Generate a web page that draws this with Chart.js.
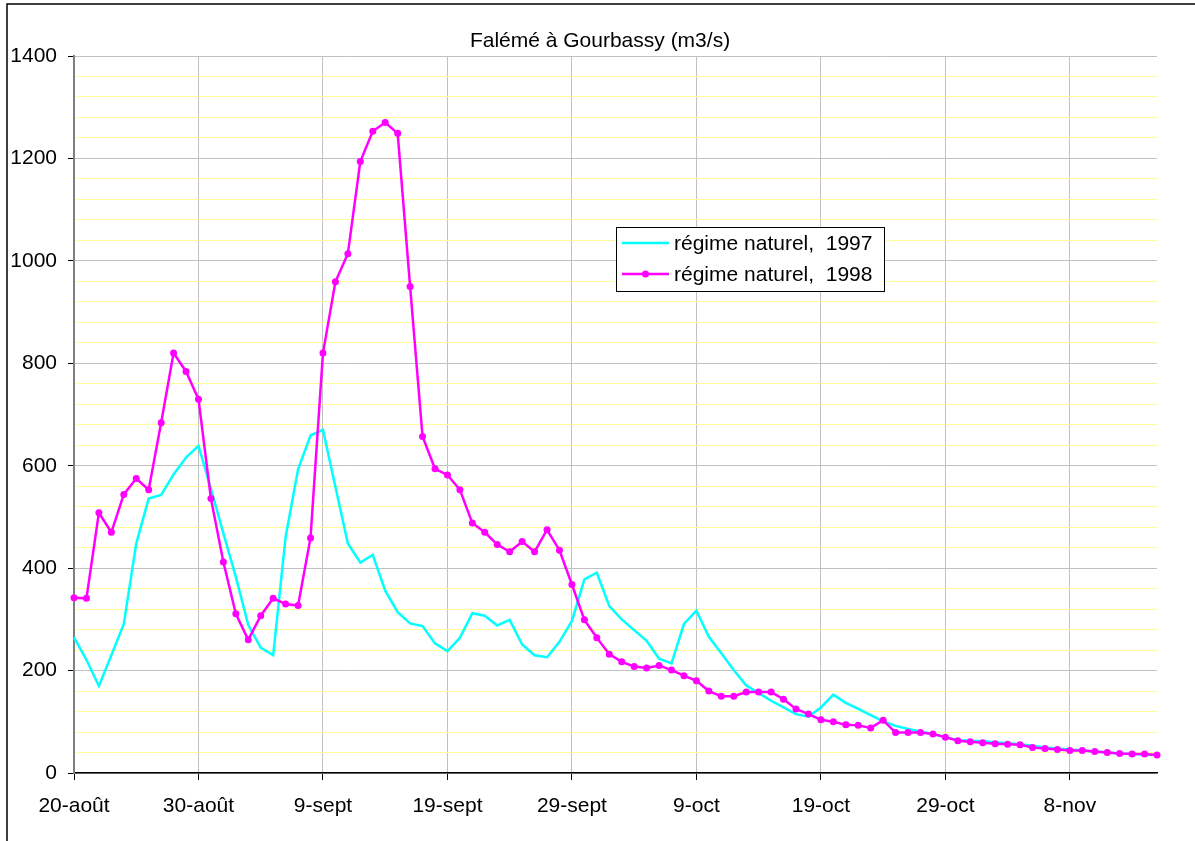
<!DOCTYPE html>
<html>
<head>
<meta charset="utf-8">
<title>Falémé à Gourbassy</title>
<script src="https://cdn.jsdelivr.net/npm/chart.js@4"></script>
<style>
  body { margin: 0; background: #fff; }
  canvas { display: block; }
</style>
</head>
<body>
<canvas id="debitChart" width="1195" height="841"></canvas>
<script>
// daily discharge (m3/s), one value per day from 20 August
const xTickLabels = ['20-août', '30-août', '9-sept', '19-sept', '29-sept', '9-oct', '19-oct', '29-oct', '8-nov'];

const regime1997 = [
  265, 221, 170, 230, 291, 448, 536, 543, 583, 616,
  639, 555, 468, 383, 289, 245, 230, 461, 593, 659,
  670, 559, 448, 411, 426, 356, 314, 292, 287, 253,
  238, 264, 312, 307, 288, 299, 251, 230, 226, 256,
  297, 378, 391, 326, 300, 279, 258, 223, 214, 291,
  317, 266, 234, 201, 171, 156, 141, 128, 115, 110,
  128, 153, 137, 125, 113, 101, 92, 86, 81, 76,
  70, 64, 63, 62, 60, 58, 56, 53, 50, 48,
  46, 44, 42, 40, 38, 37, 36, 35
];

const regime1998 = [
  342, 341, 508, 470, 544, 575, 553, 684, 820, 784,
  730, 536, 412, 311, 260, 307, 341, 330, 327, 459,
  820, 959, 1014, 1194, 1253, 1270, 1249, 950, 657, 594,
  582, 553, 488, 470, 446, 432, 452, 432, 475, 435,
  368, 299, 264, 232, 217, 208, 205, 210, 201, 190,
  180, 160, 150, 150, 158, 158, 158, 144, 125, 115,
  104, 100, 94, 93, 88, 103, 79, 79, 79, 76,
  70, 63, 61, 59, 57, 56, 55, 50, 48, 46,
  44, 44, 42, 40, 38, 37, 37, 35
];

const seriesNames = ['régime naturel,  1997', 'régime naturel,  1998'];
const chartTitle = 'Falémé à Gourbassy (m3/s)';

const FONT = '"Liberation Sans", Arial, sans-serif';
const toPoints = arr => arr.map((v, i) => ({ x: i, y: v }));

// white background, thin frame and the centred title
const frame = {
  id: 'frame',
  beforeDraw(chart) {
    const ctx = chart.ctx;
    ctx.save();
    ctx.fillStyle = '#fff';
    ctx.fillRect(0, 0, chart.width, chart.height);
    ctx.strokeStyle = '#000';
    ctx.lineWidth = 1.5;
    ctx.strokeRect(7, 4, chart.width + 10, chart.height + 10);
    ctx.fillStyle = '#000';
    ctx.font = '21px ' + FONT;
    ctx.textAlign = 'center';
    ctx.textBaseline = 'middle';
    ctx.fillText(chartTitle, 600, 41);
    ctx.restore();
  }
};

// boxed legend sitting inside the plot
const boxLegend = {
  id: 'boxLegend',
  afterDatasetsDraw(chart) {
    const ctx = chart.ctx;
    ctx.save();
    ctx.fillStyle = '#fff';
    ctx.fillRect(616, 227, 268, 64);
    ctx.strokeStyle = '#000';
    ctx.lineWidth = 1;
    ctx.strokeRect(616.5, 227.5, 268, 64);
    ctx.font = '21px ' + FONT;
    ctx.textBaseline = 'middle';
    ctx.textAlign = 'left';
    chart.data.datasets.forEach((ds, i) => {
      const y = 243 + i * 31;
      ctx.strokeStyle = ds.borderColor;
      ctx.lineWidth = 2.5;
      ctx.beginPath();
      ctx.moveTo(622, y);
      ctx.lineTo(669, y);
      ctx.stroke();
      if (ds.pointRadius > 0) {
        ctx.fillStyle = ds.pointBackgroundColor;
        ctx.beginPath();
        ctx.arc(645.5, y, 3.5, 0, Math.PI * 2);
        ctx.fill();
      }
      ctx.fillStyle = '#000';
      ctx.fillText(ds.label, 674, y + 1);
    });
    ctx.restore();
  }
};

new Chart(document.getElementById('debitChart'), {
  type: 'line',
  data: {
    datasets: [
      {
        label: seriesNames[0],
        data: toPoints(regime1997),
        borderColor: '#00ffff',
        borderWidth: 2.5,
        pointRadius: 0,
        tension: 0,
        clip: false,
        order: 2
      },
      {
        label: seriesNames[1],
        data: toPoints(regime1998),
        borderColor: '#ff00ff',
        borderWidth: 2.5,
        pointRadius: 3.5,
        pointBorderWidth: 0,
        pointBackgroundColor: '#ff00ff',
        tension: 0,
        clip: false,
        order: 1
      }
    ]
  },
  options: {
    responsive: false,
    animation: false,
    layout: { padding: { left: 0, right: 38, top: 56, bottom: 0 } },
    plugins: {
      legend: { display: false },
      tooltip: { enabled: false },
      title: { display: false }
    },
    scales: {
      x: {
        type: 'linear',
        min: 0,
        max: regime1998.length - 1,
        afterBuildTicks: s => { s.ticks = s.ticks.filter(t => t.value % 10 === 0); },
        afterFit: s => { s.height = 68; },
        ticks: {
          stepSize: 10,
          autoSkip: false,
          maxRotation: 0,
          padding: 14,
          color: '#000',
          font: { family: FONT, size: 21 },
          callback: v => xTickLabels[v / 10]
        },
        grid: { color: '#c0c0c0', lineWidth: 1, tickLength: 7, tickColor: '#000' },
        border: { color: '#000', width: 1.5 }
      },
      y: {
        min: 0,
        max: 1400,
        afterFit: s => { s.width = 74; },
        ticks: {
          stepSize: 40,
          autoSkip: false,
          maxTicksLimit: 100,
          padding: 11,
          color: '#000',
          font: { family: FONT, size: 21 },
          callback: v => (v % 200 === 0 ? String(v) : '')
        },
        grid: {
          color: c => (c.tick && c.tick.value % 200 === 0 ? '#c0c0c0' : '#ffff99'),
          lineWidth: 1,
          tickLength: 6,
          tickColor: c => (c.tick && c.tick.value % 200 === 0 ? '#000' : 'rgba(0,0,0,0)')
        },
        border: { color: '#808080', width: 2 }
      }
    }
  },
  plugins: [frame, boxLegend]
});
</script>
</body>
</html>
